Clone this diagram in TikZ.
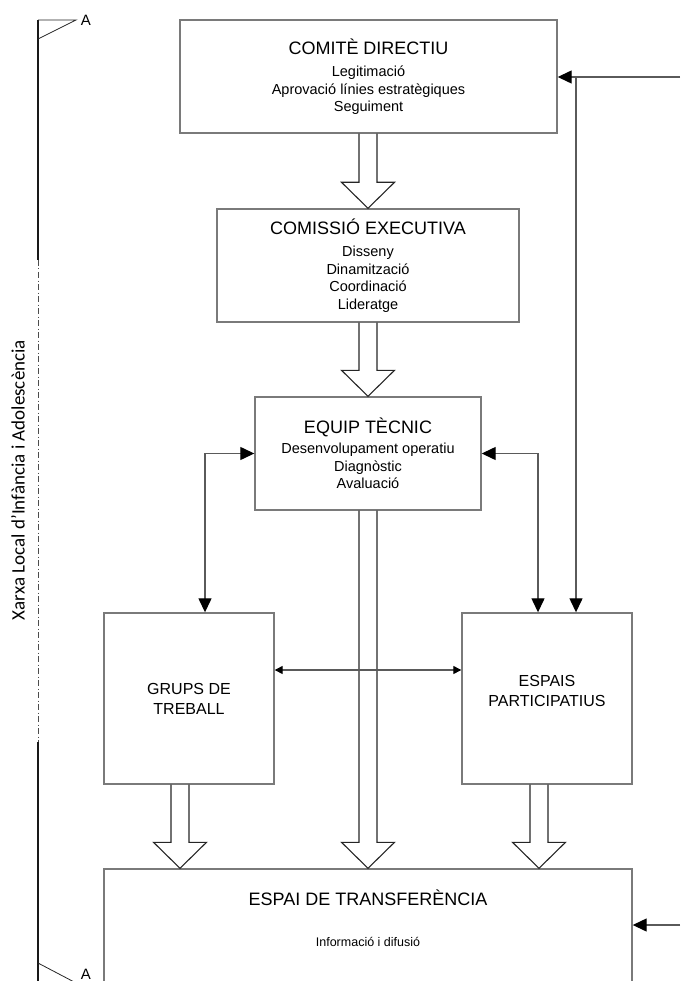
\documentclass[tikz,border=0pt]{standalone}
\usepackage{fontspec}
\setmainfont{Liberation Sans}
\newfontfamily\carlitofont{Carlito}
\usetikzlibrary{arrows.meta,calc}
\definecolor{boxgray}{HTML}{7A7A7A}
\definecolor{conngray}{HTML}{5A5A5A}
\newcommand\ttlfont{\fontsize{18}{21}\selectfont}
\newcommand\bdyfont{\fontsize{14.5}{17.5}\selectfont}
\newcommand\hollowarr[2]{\draw[hollow] let \p1=#1, \p2=#2 in
  (\x2-9pt,\y1) -- (\x2-9pt,\y2+26pt) -- (\x2-26.5pt,\y2+26pt) -- (\x2,\y2)
  -- (\x2+26.5pt,\y2+26pt) -- (\x2+9pt,\y2+26pt) -- (\x2+9pt,\y1);}
\tikzset{
  box/.style={draw=boxgray, line width=1.4pt, inner sep=0pt, align=center, font=\bdyfont},
  conn/.style={draw=conngray, line width=1.3pt},
  hollow/.style={draw=black!85, line width=1.1pt, line join=miter},
  bigtip/.tip={Triangle[length=14pt,width=13pt,black]},
  smalltip/.tip={Triangle[length=8pt,width=8pt,black]},
  vline/.style={draw=black!90, line width=2pt},
  flagline/.style={draw=black!85, line width=0.8pt},
  txt/.style={inner sep=0pt, align=center}
}
\begin{document}
\begin{tikzpicture}[x=1pt,y=-1pt]
\useasboundingbox (0,0) rectangle (680,981);

% boxes
\node[box, minimum width=377, minimum height=113] (cd) at (368.5,76.5)
  {{\ttlfont COMITÈ DIRECTIU}\\[5pt] Legitimació\\ Aprovació línies estratègiques\\ Seguiment};
\node[box, minimum width=302, minimum height=113] (cm) at (368,265.5)
  {{\ttlfont COMISSIÓ EXECUTIVA}\\[5pt] Disseny\\ Dinamització\\ Coordinació\\ Lideratge};
\node[box, minimum width=226, minimum height=113] (eq) at (368,453.5)
  {{\ttlfont EQUIP TÈCNIC}\\[3pt] Desenvolupament operatiu\\ Diagnòstic\\ Avaluació};
\node[box, minimum width=170, minimum height=171] (gr) at (189,698.5) {};
\node[box, minimum width=170, minimum height=171] (es) at (547,698.5) {};
\node[box, minimum width=528, minimum height=140] (tr) at (368,939) {};

% texts in lower boxes
\node[txt, font=\fontsize{16}{20}\selectfont] (grt) at (189,699) {GRUPS DE\\TREBALL};
\node[txt, font=\fontsize{16}{20}\selectfont] (est) at (547,691) {ESPAIS\\PARTICIPATIUS};
\node[txt, font=\ttlfont] (trt) at (368,898) {ESPAI DE TRANSFERÈNCIA};
\node[txt, font=\fontsize{12.5}{15}\selectfont] (tri) at (368,942) {Informació i difusió};

% hollow arrows
\hollowarr{(cd.south)}{(cm.north)}
\hollowarr{(cm.south)}{(eq.north)}
\hollowarr{(eq.south)}{(tr.north)}
\coordinate (ga) at ($(gr.south)+(-9,0)$);
\coordinate (ea) at ($(es.south)+(-8,0)$);
\hollowarr{(ga)}{(ga |- tr.north)}
\hollowarr{(ea)}{(ea |- tr.north)}

% connectors
\draw[conn, bigtip-bigtip] (eq.west) -| ($(gr.north)+(16,0)$);
\draw[conn, bigtip-bigtip] (eq.east) -| ($(es.north)+(-9,0)$);
\coordinate (r1) at (680,77);
\coordinate (r2) at (680,925);
\coordinate (b1) at ($(es.north)+(29,0)$);
\draw[conn, -bigtip] (r1) -- (r1 -| cd.east);
\draw[conn, -bigtip] (b1 |- r1) -- (b1);
\draw[conn, -bigtip] (r2) -- (r2 -| tr.east);
\draw[conn, smalltip-smalltip] ($(gr.east)+(0,-28.5)$) -- ($(es.west)+(0,-28.5)$);

% left bracket line
\draw[vline] (38,20) -- (38,260);
\draw[draw=black!70, line width=1pt, dash pattern=on 6pt off 2.5pt on 1pt off 2.5pt] (38,260) -- (38,742);
\draw[vline] (38,742) -- (38,990);
\draw[flagline] (38,20) -- (76,20) -- (38,39);
\draw[flagline] (38,963) -- (78,984);
\node[txt, font=\fontsize{15}{17}\selectfont] (a1) at (86,20) {A};
\node[txt, font=\fontsize{15}{17}\selectfont] (a2) at (86,974) {A};
\node[txt, rotate=90, font=\carlitofont\fontsize{19}{21}\selectfont] (lab) at (18,480)
  {Xarxa Local d’Infància i Adolescència};
\end{tikzpicture}
\end{document}
